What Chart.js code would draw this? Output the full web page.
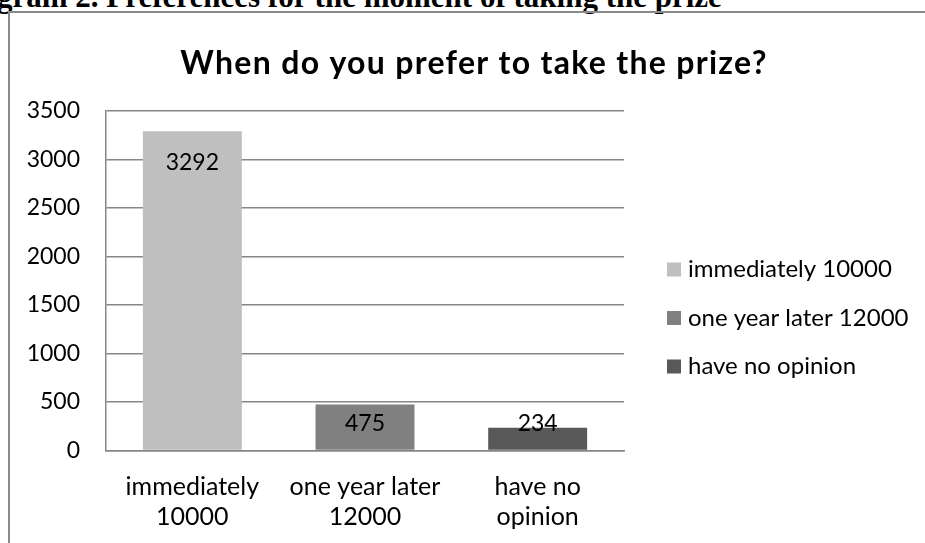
<!DOCTYPE html>
<html>
<head>
<meta charset="utf-8">
<script src="https://cdn.jsdelivr.net/npm/chart.js@4.4.0/dist/chart.umd.min.js"></script>
<style>
    html, body { margin: 0; padding: 0; background: #fff; overflow: hidden; }
    body { width: 925px; height: 543px; position: relative; }
    #heading {
        position: absolute; left: -3px; top: -19px; white-space: nowrap;
        font: bold 31px/31px "Liberation Serif", "Times New Roman", serif; color: #000;
    }
    #frame {
        position: absolute; left: 8px; top: 11px; width: 960px; height: 600px;
        border: 2px solid #8a8a8a; box-sizing: border-box;
    }
    #chart { position: absolute; left: 0; top: 0; }
</style>
</head>
<body>
<div id="heading">gram 2. Preferences for the moment of taking the prize</div>
<div id="frame"></div>
<canvas id="chart" width="950" height="560"></canvas>
<script>
const chartTitle = 'When do you prefer to take the prize?';
const categories = [['immediately', '10000'], ['one year later', '12000'], ['have no', 'opinion']];
const legendNames = ['immediately 10000', 'one year later 12000', 'have no opinion'];
const counts = [3292, 475, 234];
const yTicks = { min: 0, max: 3500, step: 500 };

const barColors = ['#bfbfbf', '#808080', '#595959'];
const gridColor = '#868686';
const FONT = 'Lato';

// title drawn over the full frame width (legend included), like Excel does
const titlePlugin = {
    id: 'frameTitle',
    afterDraw(chart) {
        const ctx = chart.ctx;
        ctx.save();
        ctx.font = 'bold 32px ' + FONT;
        ctx.letterSpacing = '1.3px';
        ctx.fillStyle = '#000';
        ctx.textAlign = 'center';
        ctx.textBaseline = 'alphabetic';
        ctx.fillText(chartTitle, 474, 74);
        ctx.restore();
    }
};

// value labels: inside end of the bar, pushed up for short bars
const valueLabels = {
    id: 'valueLabels',
    afterDatasetsDraw(chart) {
        const ctx = chart.ctx;
        const meta = chart.getDatasetMeta(0);
        const base = chart.scales.y.getPixelForValue(0);
        ctx.save();
        ctx.font = '23px ' + FONT;
        ctx.fillStyle = '#000';
        ctx.textAlign = 'center';
        ctx.textBaseline = 'middle';
        meta.data.forEach((bar, i) => {
            const y = Math.min(bar.y + 31, base - 27);
            ctx.fillText(String(chart.data.datasets[0].data[i]), bar.x, y);
        });
        ctx.restore();
    }
};

// legend on the right, one entry per point (vary colours by point)
const sideLegend = {
    id: 'sideLegend',
    afterDraw(chart) {
        const ctx = chart.ctx;
        const ds = chart.data.datasets[0];
        ctx.save();
        ctx.font = '24px ' + FONT;
        ctx.textBaseline = 'middle';
        ctx.textAlign = 'left';
        legendNames.forEach((name, i) => {
            const cy = 269.5 + i * 48.5;
            ctx.fillStyle = ds.backgroundColor[i];
            ctx.fillRect(667, cy - 7, 14, 14);
            ctx.fillStyle = '#000';
            ctx.fillText(name, 688, cy);
        });
        ctx.restore();
    }
};

function drawChart() {
    const ctx = document.getElementById('chart').getContext('2d');
    new Chart(ctx, {
        type: 'bar',
        data: {
            labels: categories,
            datasets: [{
                data: counts,
                backgroundColor: barColors,
                borderWidth: 0,
                barPercentage: 0.573,
                categoryPercentage: 1
            }]
        },
        options: {
            responsive: false,
            animation: false,
            devicePixelRatio: 1,
            layout: { padding: { left: 0, top: 111, right: 326, bottom: 0 } },
            plugins: {
                legend: { display: false },
                title: { display: false },
                tooltip: { enabled: false }
            },
            scales: {
                x: {
                    grid: { display: false },
                    border: { display: true, color: gridColor, width: 1.5 },
                    ticks: {
                        color: '#000',
                        padding: 13,
                        maxRotation: 0,
                        autoSkip: false,
                        font: { family: FONT, size: 25, lineHeight: 1.2 }
                    },
                    afterFit(scale) { scale.height = 109.5; }
                },
                y: {
                    min: yTicks.min,
                    max: yTicks.max,
                    grid: { color: gridColor, lineWidth: 1.5, drawTicks: false },
                    border: { display: true, color: gridColor, width: 1.5 },
                    ticks: {
                        stepSize: yTicks.step,
                        color: '#000',
                        padding: 26,
                        font: { family: FONT, size: 23 },
                        callback: v => String(v)
                    },
                    afterFit(scale) { scale.width = 106; }
                }
            }
        },
        plugins: [valueLabels, sideLegend, titlePlugin]
    });
}

document.fonts.load('23px ' + FONT).then(drawChart, drawChart);
</script>
</body>
</html>
